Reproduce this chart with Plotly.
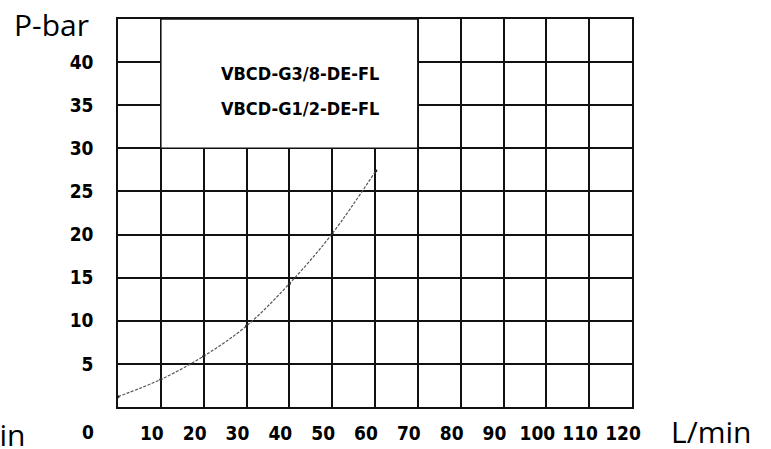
import plotly.graph_objects as go

# data
flow = [0, 10, 20, 30, 40, 50, 60.2]
pressure = [1.2, 3.2, 5.9, 9.4, 14.3, 20.1, 27.4]
x_ticks = [10, 20, 30, 40, 50, 60, 70, 80, 90, 100, 110, 120]
y_ticks = [5, 10, 15, 20, 25, 30, 35, 40]
models = ["VBCD-G3/8-DE-FL", "VBCD-G1/2-DE-FL"]
x_unit = "L/min"
y_unit = "P-bar"

cond = "DejaVu Sans Condensed, DejaVu Sans"
num_font = dict(family=cond, size=19, color="black", weight="bold")
grid = dict(showgrid=True, gridcolor="#111", gridwidth=1.5, showline=True,
            linecolor="#111", linewidth=1.5, mirror=True, zeroline=False, ticks="",
            automargin=False)

fig = go.Figure()
fig.add_trace(go.Scatter(
    x=flow, y=pressure, mode="lines+markers",
    line=dict(color="#555", width=1.2, dash="3px,1.5px", shape="spline"),
    marker=dict(color="#222", size=3),
    showlegend=False, hoverinfo="skip"))

fig.update_layout(
    width=771, height=449,
    margin=dict(l=118, r=139, t=19, b=42),
    plot_bgcolor="white", paper_bgcolor="white",
    xaxis=dict(range=[0, 120], tickvals=x_ticks, ticktext=[str(v) for v in x_ticks],
               tickfont=num_font, ticklabelstandoff=8, ticklabelshift=-9, **grid),
    yaxis=dict(range=[0, 45], tickvals=y_ticks, ticktext=[str(v) for v in y_ticks],
               tickfont=num_font, ticklabelstandoff=19, **grid),
)

fig.add_shape(type="rect", xref="x", yref="y", x0=10, x1=70, y0=30, y1=45,
              fillcolor="white", line=dict(color="#111", width=1.5), layer="above")

box_font = dict(family=cond, size=18, color="black", weight="bold")
fig.add_annotation(x=42.5, y=38.7, xref="x", yref="y", text=models[0], showarrow=False, font=box_font)
fig.add_annotation(x=42.5, y=34.6, xref="x", yref="y", text=models[1], showarrow=False, font=box_font)

# "0" label at the corner
fig.add_annotation(x=0, y=0, xref="x", yref="y", text="0", showarrow=False,
                   xshift=-30, yshift=-25, font=num_font)

unit_font = dict(family="Open Sans", size=30, color="black")
fig.add_annotation(x=0, y=1, xref="paper", yref="paper", text=y_unit, showarrow=False,
                   xanchor="right", yanchor="middle", xshift=-27, yshift=-5, font=unit_font)
fig.add_annotation(x=1, y=0, xref="paper", yref="paper", text=x_unit, showarrow=False,
                   xanchor="left", yanchor="middle", xshift=37, yshift=-24, font=unit_font)
fig.add_annotation(x=0, y=0, xref="paper", yref="paper", text=x_unit, showarrow=False,
                   xanchor="right", yanchor="middle", xshift=-91, yshift=-27, font=unit_font)

fig.write_html("out.html", config={"displayModeBar": False},
               post_script="document.body.style.margin='0';")
